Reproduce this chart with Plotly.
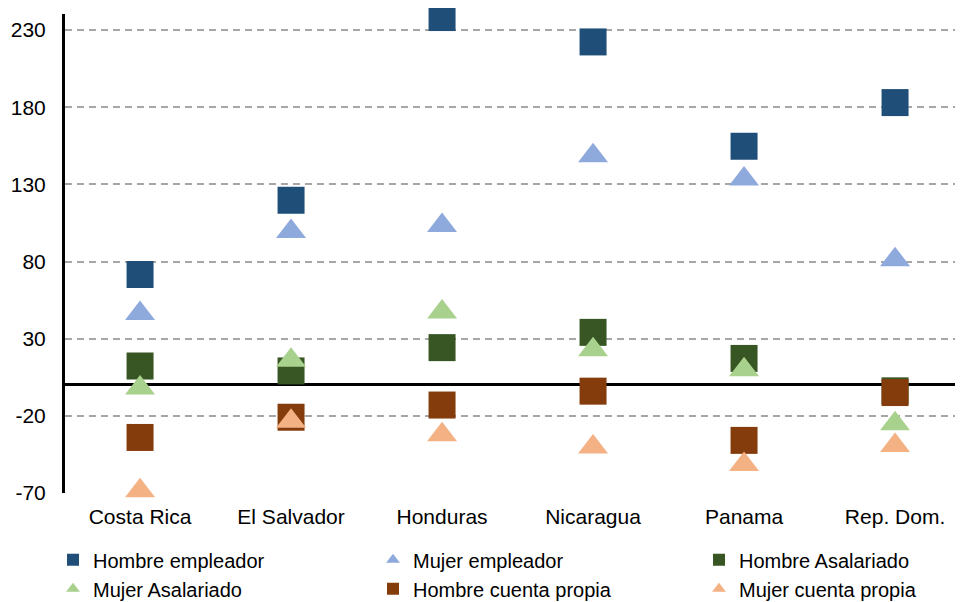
import plotly.graph_objects as go

paises = ["Costa Rica", "El Salvador", "Honduras", "Nicaragua", "Panama", "Rep. Dom."]

hombre_empleador = [71.6, 119.7, 238.1, 222.3, 154.7, 183.0]
mujer_empleador = [46.4, 99.5, 103.3, 148.6, 133.5, 81.2]
hombre_asalariado = [12.3, 9.1, 24.2, 34.1, 17.2, -3.8]
mujer_asalariado = [-2.0, 16.0, 47.3, 22.9, 9.9, -25.1]
hombre_cuenta_propia = [-34.0, -20.9, -13.0, -4.0, -35.9, -4.9]
mujer_cuenta_propia = [-68.5, -23.5, -32.2, -40.2, -51.5, -39.2]

y_ticks = [-70, -20, 30, 80, 130, 180, 230]

# name, values, symbol, colour, size, legend column
series = [
    ("Hombre empleador", hombre_empleador, "square", "#1F4E79", 27, "legend"),
    ("Mujer empleador", mujer_empleador, "triangle-up", "#8EA9DB", 26, "legend2"),
    ("Hombre Asalariado", hombre_asalariado, "square", "#375623", 27, "legend3"),
    ("Mujer Asalariado", mujer_asalariado, "triangle-up", "#A9D18E", 26, "legend"),
    ("Hombre cuenta propia", hombre_cuenta_propia, "square", "#843C0C", 27, "legend2"),
    ("Mujer cuenta propia", mujer_cuenta_propia, "triangle-up", "#F4B183", 26, "legend3"),
]

fig = go.Figure()
for name, vals, sym, col, size, leg in series:
    fig.add_trace(go.Scatter(
        x=paises, y=vals, name=name, mode="markers", legend=leg,
        marker=dict(symbol=sym, color=col, size=size, line=dict(width=0)),
        cliponaxis=False,
    ))

# the page adds an 8px body margin, so the figure is a bit smaller
W, H = 955, 594

def leg(xpix):
    return dict(
        orientation="v", xref="container", yref="container",
        x=xpix / W, y=0.104, xanchor="left", yanchor="top",
        itemsizing="constant", traceorder="normal",
        font=dict(size=20), tracegroupgap=0, bgcolor="rgba(0,0,0,0)",
    )

fig.update_layout(
    width=W, height=H,
    margin=dict(l=57, r=0, t=6, b=109, autoexpand=False),
    paper_bgcolor="white", plot_bgcolor="white",
    font=dict(family="Liberation Sans, Arial, sans-serif", size=21, color="black"),
    showlegend=True,
    legend=leg(45), legend2=leg(365), legend3=leg(691),
)

fig.update_xaxes(
    range=[-0.497, 5.45], showgrid=False, zeroline=False, showline=False,
    ticks="", ticklabelstandoff=9, tickfont=dict(size=21), automargin=False,
)
fig.update_yaxes(
    range=[-70, 240.4], tickvals=y_ticks, ticktext=[str(v) for v in y_ticks],
    showgrid=True, gridcolor="#A6A6A6", gridwidth=2, griddash="7px,5px",
    zeroline=True, zerolinecolor="black", zerolinewidth=3,
    showline=True, linecolor="black", linewidth=3,
    ticks="", ticklabelstandoff=12, tickfont=dict(size=21), automargin=False,
)

fig.write_html("out.html")
